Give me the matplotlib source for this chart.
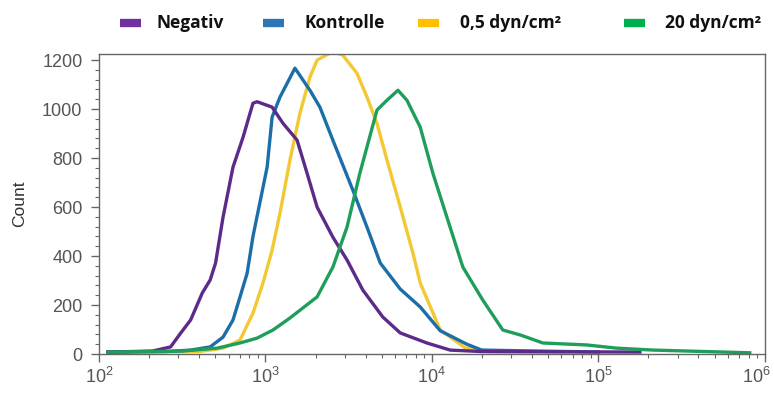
import matplotlib.pyplot as plt
from matplotlib.lines import Line2D
from matplotlib.transforms import ScaledTranslation
from matplotlib.ticker import LogLocator, MultipleLocator

plt.rcParams['font.family'] = ['Liberation Sans', 'DejaVu Sans']
plt.rcParams['mathtext.default'] = 'regular'

# Fluoreszenz-Histogramme (x: Intensitaet, y: Count)
neg_x = [113, 209, 269, 309, 355, 417, 465, 501, 556, 638, 733, 841, 891,
         1096, 1274, 1549, 1778, 2042, 2541, 3090, 3846, 5070, 6457, 9333,
         12882, 19953, 177828]
neg_y = [8, 12, 29, 85, 139, 249, 302, 371, 559, 763, 885, 1024, 1030,
         1008, 942, 873, 738, 600, 477, 384, 261, 151, 86, 45,
         16, 10, 8]

kon_x = [113, 251, 355, 465, 556, 638, 703, 776, 841, 1023, 1096, 1222, 1503,
         1849, 2123, 2541, 3350, 4074, 4898, 6457, 8511, 11220, 16218, 19953,
         100000]
kon_y = [8, 10, 16, 29, 69, 139, 233, 330, 480, 763, 967, 1049, 1167,
         1077, 1008, 873, 669, 518, 371, 265, 192, 95, 40, 16,
         8]

d05_x = [113, 398, 556, 703, 841, 966, 1096, 1222, 1403, 1611, 1849, 2042,
         2541, 2917, 3548, 4074, 4677, 5370, 6457, 7691, 8511, 11220, 12882,
         15849, 22387, 63096]
d05_y = [8, 10, 24, 57, 167, 290, 424, 575, 792, 983, 1130, 1200,
         1235, 1220, 1146, 1049, 942, 792, 600, 412, 290, 98, 69,
         25, 10, 8]

d20_x = [113, 316, 513, 703, 891, 1109, 1403, 2042, 2541, 3090, 3690, 4677,
         5370, 6252, 7079, 8511, 10139, 12303, 15346, 20230, 26669, 33884,
         46452, 85114, 128825, 213796, 812831]
d20_y = [8, 12, 24, 45, 65, 98, 147, 233, 355, 518, 738, 996,
         1036, 1077, 1036, 926, 738, 559, 355, 220, 98, 78,
         45, 37, 24, 16, 5]

labels = ["Negativ", "Kontrolle", "0,5 dyn/cm²", "20 dyn/cm²"]
colors = ["#5c2a88", "#1c6ea8", "#f3c833", "#1f9e5b"]
legend_colors = ["#7030a0", "#2e75b6", "#ffc000", "#00b050"]
x_ticks = [1e2, 1e3, 1e4, 1e5, 1e6]

W, H = 774, 394
fig = plt.figure(figsize=(W / 100, H / 100), dpi=100)
ax = fig.add_axes([0.128, 0.1015, 0.86, 0.7615])

lw = 2.4
ax.plot(d05_x, d05_y, color=colors[2], lw=lw)
ax.plot(kon_x, kon_y, color=colors[1], lw=lw)
ax.plot(neg_x, neg_y, color=colors[0], lw=lw)
ax.plot(d20_x, d20_y, color=colors[3], lw=lw)

ax.set_xscale('log')
ax.set_xlim(1e2, 1e6)
ax.set_ylim(0, 1225)
ax.yaxis.set_major_locator(MultipleLocator(200))
ax.yaxis.set_minor_locator(MultipleLocator(40))
ax.set_xticks(x_ticks)
ax.xaxis.set_minor_locator(LogLocator(base=10, subs=range(2, 10)))

grey = "#555555"
for s in ax.spines.values():
    s.set_color("#666666")
    s.set_linewidth(1.0)
ax.tick_params(which='major', direction='out', length=6, width=1,
               color="#666666", labelcolor=grey, labelsize=13)
ax.tick_params(which='minor', direction='out', length=3, width=0.8,
               color="#666666")
ax.tick_params(axis='y', pad=6)
ax.set_ylabel("Count", color="#333333", fontsize=12.5, labelpad=11)

# letzte x-Beschriftung (10^6) etwas nach links, damit sie ins Bild passt
last = ax.xaxis.get_major_ticks()[-1].label1
last.set_transform(last.get_transform()
                   + ScaledTranslation(-8 / 100, 0, fig.dpi_scale_trans))

# Legende oben, manuell platziert (Pixel vom linken oberen Rand)
handle_x = [120, 263, 418, 624]
text_x = [156, 304, 460, 665]
y_leg = 1 - 23 / H
for c, lab, hx, tx in zip(legend_colors, labels, handle_x, text_x):
    fig.add_artist(Line2D([hx / W, (hx + 21) / W], [y_leg, y_leg], color=c,
                          lw=6, solid_capstyle='butt',
                          transform=fig.transFigure))
    fig.text(tx / W, y_leg, lab, ha='left', va='center', color="#111111",
             family='Open Sans', weight='bold', fontsize=12.5)

fig.savefig("out.png", dpi=100)
